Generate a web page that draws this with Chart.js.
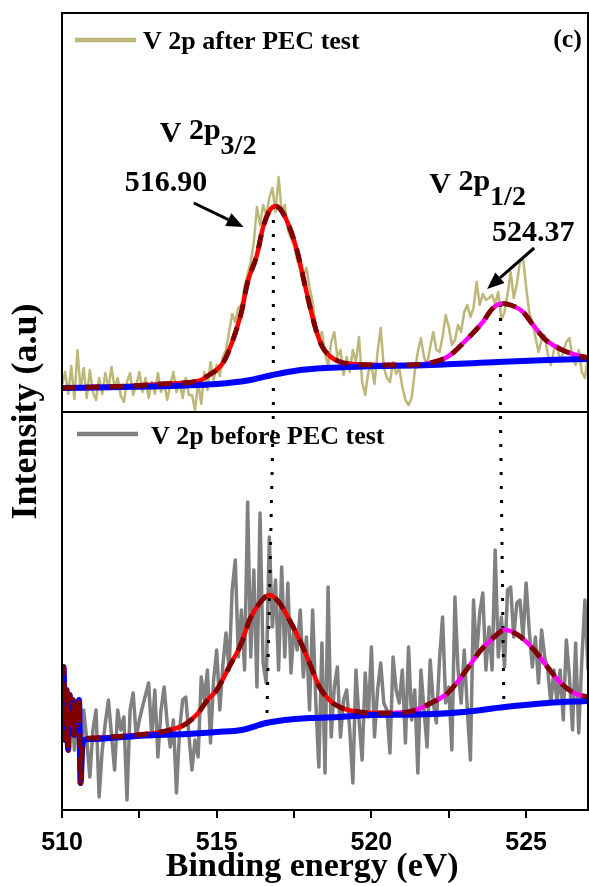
<!DOCTYPE html>
<html>
<head>
<meta charset="utf-8">
<title>V 2p XPS before / after PEC test</title>
<script src="https://cdn.jsdelivr.net/npm/chart.js@4.4.1/dist/chart.umd.min.js"></script>
<style>
  html, body { margin: 0; padding: 0; background: #fff; }
  #wrap { position: relative; width: 589px; height: 886px; }
</style>
</head>
<body>
<div id="wrap"><canvas id="xps" width="589" height="886"></canvas></div>
<script>
// ============================================================
// V 2p core level — raw spectra + fitted components (a.u.)
// top panel: after PEC test, bottom panel: before PEC test
// ============================================================

// ─── Raw spectra (0.1 eV grid) ────────────────────────────────
const energyGrid = [
  510.0, 510.1, 510.2, 510.3, 510.4, 510.5, 510.6, 510.7, 510.8, 510.9,
  511.0, 511.1, 511.2, 511.3, 511.4, 511.5, 511.6, 511.7, 511.8, 511.9,
  512.0, 512.1, 512.2, 512.3, 512.4, 512.5, 512.6, 512.7, 512.8, 512.9,
  513.0, 513.1, 513.2, 513.3, 513.4, 513.5, 513.6, 513.7, 513.8, 513.9,
  514.0, 514.1, 514.2, 514.3, 514.4, 514.5, 514.6, 514.7, 514.8, 514.9,
  515.0, 515.1, 515.2, 515.3, 515.4, 515.5, 515.6, 515.7, 515.8, 515.9,
  516.0, 516.1, 516.2, 516.3, 516.4, 516.5, 516.6, 516.7, 516.8, 516.9,
  517.0, 517.1, 517.2, 517.3, 517.4, 517.5, 517.6, 517.7, 517.8, 517.9,
  518.0, 518.1, 518.2, 518.3, 518.4, 518.5, 518.6, 518.7, 518.8, 518.9,
  519.0, 519.1, 519.2, 519.3, 519.4, 519.5, 519.6, 519.7, 519.8, 519.9,
  520.0, 520.1, 520.2, 520.3, 520.4, 520.5, 520.6, 520.7, 520.8, 520.9,
  521.0, 521.1, 521.2, 521.3, 521.4, 521.5, 521.6, 521.7, 521.8, 521.9,
  522.0, 522.1, 522.2, 522.3, 522.4, 522.5, 522.6, 522.7, 522.8, 522.9,
  523.0, 523.1, 523.2, 523.3, 523.4, 523.5, 523.6, 523.7, 523.8, 523.9,
  524.0, 524.1, 524.2, 524.3, 524.4, 524.5, 524.6, 524.7, 524.8, 524.9,
  525.0, 525.1, 525.2, 525.3, 525.4, 525.5, 525.6, 525.7, 525.8, 525.9,
  526.0, 526.1, 526.2, 526.3, 526.4, 526.5, 526.6, 526.7, 526.8, 526.9,
  527.0
];

const afterCounts = [
   27,  40,  18,  46,  13,  62,  22,  44,  14,  42,
   20,  12,  34,  18,  39,  24,  45,  24,  34,  16,
   10,  30,  39,  17,  27,  40,  20,  34,  14,  30,
   18,  39,  20,  30,  12,  27,  40,  20,  30,  14,
   34,  17,  17,   2,  30,   8,  40,  22,  50,  32,
   47,  36,  55,  62,  80,  98,  90, 104, 107, 125,
  138, 150, 170, 205, 187, 207, 197, 214, 224, 200,
  235, 200, 207, 182, 174, 166, 152, 142, 137, 144,
  125, 110,  87,  74,  80,  60,  45,  70,  80,  55,
   62,  37,  55,  40,  62,  50,  75,  30,  17,  40,
   47,  28,  60,  84,  45,  34,  30,  50,  38,  44,
   25,  12,   7,  14,  40,  60,  74,  55,  47,  65,
   80,  62,  60,  75,  97,  85,  67,  72,  87,  80,
  100, 107,  95, 104, 130, 107, 118, 112, 114, 117,
  108, 120,  92, 100, 118, 140, 114, 128, 150, 154,
  125, 100,  90,  75,  60,  72,  77,  58,  47,  62,
   67,  50,  60,  70,  74,  55,  47,  62,  40,  34,
   57
];

const beforeCounts = [
   80, 100,  70, 110,  60,  95,  40, 100,  70,  33,
   80, 100,  13,  60,  87, 110,  75,  40, 100,  80,
   93,  10, 100, 117,  73,  90, 103, 115, 127,  73,
  120,  53, 100, 123,  87,  63,  90,  17,  80, 110,
  113,  75,  40,  70,  53, 133, 110, 140,  67, 130,
  160, 100, 145, 177, 140, 220, 250, 153, 200, 140,
  308, 153, 240, 123, 297, 147, 127, 273, 183, 230,
  140, 243, 153, 227, 137, 183, 160, 200, 133, 173,
  100, 200, 110,  43, 167,  37, 223,  73, 123, 143,
   73, 110, 120,  80,  27, 140,  90,  50, 137,  93,
  163,  73, 120, 147, 107, 100,  57, 153, 120, 107,
  140,  67, 163,  90, 120,  37, 140, 100,  63, 150,
  107,  87, 150, 193, 107, 123,  60, 213, 140, 107,
  160, 100,  50, 210, 153, 197, 217, 140, 183, 140,
  260, 153, 193, 143, 220, 223, 173, 207, 210, 173,
  227, 180, 143, 173, 127, 180, 153, 140, 107, 140,
  107, 140,  90, 170, 133,  80, 167,  77, 150, 210,
  140
];

// ─── Fits: after PEC test ─────────────────────────────────────
const topPeak1X = [510.0, 512.1, 513.5, 514.4, 514.7, 515.2, 515.5, 515.8, 516.0, 516.3,
                   516.5, 516.7, 516.9, 517.1, 517.35, 517.6, 517.8, 518.0, 518.2, 518.4,
                   518.65, 519.0, 519.4, 520.3];
const topPeak1Y = [24, 26, 28.5, 31, 36, 49, 70, 100, 130, 157,
                   185, 201, 206, 201, 185, 161, 134, 107, 83, 66,
                   56, 50, 48, 47];
const topPeak2X = [520.3, 521.2, 521.9, 522.5, 523.0, 523.6, 523.9, 524.2, 524.5, 524.9,
                   525.2, 525.6, 526.1, 526.5, 527.0];
const topPeak2Y = [47, 47, 49, 56, 70, 90, 103, 108.5, 107, 100,
                   88, 73, 63, 58, 54];
const topBgX = [510.0, 512.0, 514.0, 515.0, 516.0, 516.8, 517.6, 518.5, 519.75, 521.9, 524.1, 525.7, 527.0];
const topBgY = [24, 25, 26.5, 28, 31.5, 37, 41.5, 44, 45.5, 47, 50, 52, 53];

// ─── Fits: before PEC test ────────────────────────────────────
const botPeak1X = [510.0, 510.05, 510.1, 510.15, 510.2, 510.25, 510.3, 510.35, 510.4, 510.45,
                   510.5, 510.55, 510.6, 510.65, 510.7, 511.0, 512.0, 513.0, 513.5, 514.0,
                   514.4, 514.7, 515.0, 515.4, 515.8, 516.06, 516.39, 516.71, 517.03, 517.35,
                   517.68, 518.0, 518.32, 518.64, 518.97, 519.4, 520.04, 520.7];
const botPeak1Y = [110, 143, 70, 120, 60, 115, 80, 110, 75, 105,
                   85, 110, 27, 60, 70, 72, 74, 77, 80, 86,
                   97, 110, 120, 143, 167, 190, 207, 215, 207, 190,
                   170, 147, 123, 110, 103, 99, 97, 97];
const botPeak2X = [520.7, 521.33, 521.93, 522.47, 523.0, 523.54, 523.97, 524.29, 524.5, 524.83,
                   525.26, 525.69, 526.12, 526.55, 527.0];
const botPeak2Y = [97, 99, 107, 117, 137, 160, 173, 180, 179, 173,
                   160, 143, 127, 117, 113];
const botBgX = [510.0, 510.05, 510.1, 510.15, 510.2, 510.25, 510.3, 510.35, 510.4, 510.45,
                510.5, 510.55, 510.6, 510.65, 510.7, 511.0, 512.0, 513.0, 514.0, 515.0,
                515.8, 516.6, 517.2, 518.0, 519.0, 520.0, 521.5, 523.0, 524.3, 525.7, 527.0];
const botBgY = [110, 143, 70, 120, 60, 115, 80, 110, 75, 105,
                85, 110, 27, 60, 70, 71, 73, 75, 76, 78,
                80, 87, 90, 92, 93, 95, 95.5, 98, 103, 107, 109];

// ─── Axis ticks / labels ──────────────────────────────────────
const xMin = 510, xMax = 527, xStep = 2.5;
const xLabelEvery = 5;

// peak position guides: [x, y] in top panel, [x, y] where it ends in bottom panel
const peakGuides = [
  { top: [516.83, 206], bot: [516.62, 88] },
  { top: [524.17, 108], bot: [524.28, 107] },
];

// annotations (top panel data coords)
const peakLabels = [
  { main: 'V 2p', sub: '3/2', at: [513.16, 270] },
  { main: 'V 2p', sub: '1/2', at: [521.87, 219] },
];
const peakValues = [
  { text: '516.90', at: [512.03, 221], from: [514.26, 209], to: [515.87, 185] },
  { text: '524.37', at: [523.90, 171], from: [525.26, 164], to: [523.74, 123] },
];

const SERIF = '"Liberation Serif", "Times New Roman", serif';
const SANS = '"Liberation Sans", Arial, sans-serif';

function xy(xs, ys) { return xs.map((x, i) => ({ x, y: ys[i] })); }
function joinCurve(a, b) { return a.concat(b.slice(1)); }

function lineSet(opts) {
  return Object.assign({
    pointRadius: 0,
    fill: false,
    borderJoinStyle: 'round',
    cubicInterpolationMode: 'monotone',
  }, opts);
}

function buildDatasets() {
  const panels = [
    { axis: 'yT', raw: afterCounts, label: 'V 2p after PEC test', color: '#BDB77A', rawWidth: 2.5,
      p1x: topPeak1X, p1y: topPeak1Y, p2x: topPeak2X, p2y: topPeak2Y, bgx: topBgX, bgy: topBgY, rawOrder: 5 },
    { axis: 'yB', raw: beforeCounts, label: 'V 2p before PEC test', color: '#808080', rawWidth: 3.5,
      p1x: botPeak1X, p1y: botPeak1Y, p2x: botPeak2X, p2y: botPeak2Y, bgx: botBgX, bgy: botBgY, rawOrder: 6 },
  ];
  const sets = [];
  panels.forEach(p => {
    sets.push(lineSet({ role: 'raw', panel: p.axis, label: p.label, data: xy(energyGrid, p.raw),
      yAxisID: p.axis, borderColor: p.color, borderWidth: p.rawWidth, cubicInterpolationMode: 'default',
      tension: 0, order: p.rawOrder }));
    sets.push(lineSet({ label: 'peak 1', data: xy(p.p1x, p.p1y), yAxisID: p.axis,
      borderColor: '#FF0000', borderWidth: 4.5, order: 4 }));
    sets.push(lineSet({ label: 'peak 2', data: xy(p.p2x, p.p2y), yAxisID: p.axis,
      borderColor: '#FF00FF', borderWidth: 4.5, order: 3 }));
    sets.push(lineSet({ label: 'background', data: xy(p.bgx, p.bgy), yAxisID: p.axis,
      borderColor: '#0000FF', borderWidth: 6, order: 2 }));
    sets.push(lineSet({ label: 'envelope', data: joinCurve(xy(p.p1x, p.p1y), xy(p.p2x, p.p2y)), yAxisID: p.axis,
      borderColor: '#800000', borderWidth: 5, borderDash: [14, 10], order: 1 }));
  });
  return sets;
}

// ─── Plugins ──────────────────────────────────────────────────
const guidePlugin = {
  id: 'guides',
  afterDatasetDraw(chart, args) {
    const ds = chart.data.datasets[args.index];
    if (ds.role !== 'raw' || ds.panel !== 'yT') return;
    const { ctx, scales: { x, yT, yB } } = chart;
    ctx.save();
    ctx.strokeStyle = '#000';
    ctx.lineWidth = 3;
    ctx.setLineDash([3, 11]);
    peakGuides.forEach(g => {
      const xt = x.getPixelForValue(g.top[0]);
      ctx.beginPath();
      ctx.moveTo(xt, yT.getPixelForValue(g.top[1]));
      ctx.lineTo(xt, yT.getPixelForValue(0));
      ctx.lineTo(x.getPixelForValue(g.bot[0]), yB.getPixelForValue(g.bot[1]));
      ctx.stroke();
    });
    ctx.restore();
  }
};

function drawArrow(ctx, x1, y1, x2, y2) {
  const ang = Math.atan2(y2 - y1, x2 - x1);
  const head = 17, half = 7;
  const bx = x2 - head * Math.cos(ang), by = y2 - head * Math.sin(ang);
  ctx.beginPath();
  ctx.moveTo(x1, y1);
  ctx.lineTo(bx, by);
  ctx.stroke();
  ctx.beginPath();
  ctx.moveTo(x2, y2);
  ctx.lineTo(bx + half * Math.sin(ang), by - half * Math.cos(ang));
  ctx.lineTo(bx - half * Math.sin(ang), by + half * Math.cos(ang));
  ctx.closePath();
  ctx.fill();
}

const annotatePlugin = {
  id: 'annotate',
  afterDatasetsDraw(chart) {
    const { ctx, chartArea: a, scales: { x, yT, yB } } = chart;
    const mid = yT.getPixelForValue(0);
    ctx.save();

    // panel frame
    ctx.strokeStyle = '#000';
    ctx.lineWidth = 2;
    ctx.strokeRect(a.left, a.top, a.right - a.left, a.bottom - a.top);
    ctx.beginPath();
    ctx.moveTo(a.left, mid);
    ctx.lineTo(a.right, mid);
    ctx.stroke();

    // legends, one per panel
    ctx.fillStyle = '#000';
    ctx.textBaseline = 'alphabetic';
    ctx.font = 'bold 26px ' + SERIF;
    const legendPos = { yT: { top: a.top, x0: 13, x1: 74, tx: 81, ly: 27, ty: 36 },
                        yB: { top: mid,   x0: 15, x1: 76, tx: 89, ly: 22, ty: 32 } };
    chart.data.datasets.filter(d => d.role === 'raw').forEach(d => {
      const p = legendPos[d.panel];
      ctx.strokeStyle = d.borderColor;
      ctx.lineWidth = 4.5;
      ctx.beginPath();
      ctx.moveTo(a.left + p.x0, p.top + p.ly);
      ctx.lineTo(a.left + p.x1, p.top + p.ly);
      ctx.stroke();
      ctx.fillText(d.label, a.left + p.tx, p.top + p.ty);
    });

    ctx.textAlign = 'right';
    ctx.fillText('(c)', a.right - 6, a.top + 34);
    ctx.textAlign = 'left';

    // peak names with subscripts
    peakLabels.forEach(l => {
      const px = x.getPixelForValue(l.at[0]), py = yT.getPixelForValue(l.at[1]);
      ctx.font = 'bold 30px ' + SERIF;
      ctx.fillText('V ', px, py);
      const w1 = ctx.measureText('V ').width;
      ctx.fillText('2p', px + w1, py - 3);
      const w2 = ctx.measureText('2p').width;
      ctx.font = 'bold 28px ' + SERIF;
      ctx.fillText(l.sub, px + w1 + w2, py + 12);
    });

    // binding energies with arrows
    ctx.font = 'bold 30px ' + SERIF;
    ctx.strokeStyle = '#000';
    ctx.lineWidth = 3;
    peakValues.forEach(v => {
      ctx.fillText(v.text, x.getPixelForValue(v.at[0]), yT.getPixelForValue(v.at[1]));
      drawArrow(ctx,
        x.getPixelForValue(v.from[0]), yT.getPixelForValue(v.from[1]),
        x.getPixelForValue(v.to[0]), yT.getPixelForValue(v.to[1]));
    });
    ctx.restore();
  }
};

// ─── Chart ────────────────────────────────────────────────────
new Chart(document.getElementById('xps'), {
  type: 'line',
  data: { datasets: buildDatasets() },
  options: {
    responsive: false,
    animation: false,
    devicePixelRatio: 1,
    layout: { padding: { left: 8, top: 13, right: 1, bottom: 0 } },
    plugins: { legend: { display: false }, tooltip: { enabled: false } },
    scales: {
      x: {
        type: 'linear',
        position: 'bottom',
        min: xMin,
        max: xMax,
        grid: { display: true, drawOnChartArea: false, drawTicks: true, tickLength: 8,
                tickWidth: 2, tickColor: '#000', lineWidth: 2 },
        border: { display: false },
        ticks: {
          stepSize: xStep,
          includeBounds: false,
          autoSkip: false,
          maxRotation: 0,
          padding: 12.5,
          color: '#000',
          font: { family: SANS, size: 25, weight: 'bold', lineHeight: 1 },
          callback: v => (v % xLabelEvery === 0 ? String(v) : ''),
        },
        title: {
          display: true,
          text: 'Binding energy (eV)   ',
          color: '#000',
          padding: { top: -18, bottom: 2 },
          font: { family: SERIF, size: 34, weight: 'bold', lineHeight: 1 },
        },
      },
      yB: {
        position: 'left',
        min: 0,
        max: 797,
        grid: { display: false, drawTicks: false },
        border: { display: false },
        ticks: { display: false },
        title: {
          display: true,
          text: 'Intensity (a.u)',
          color: '#000',
          padding: { top: 1, bottom: 17 },
          font: { family: SERIF, size: 36, weight: 'bold', lineHeight: 1 },
        },
      },
      yT: {
        position: 'left',
        display: false,
        min: -398,
        max: 399,
      },
    },
  },
  plugins: [guidePlugin, annotatePlugin],
});
</script>
</body>
</html>
